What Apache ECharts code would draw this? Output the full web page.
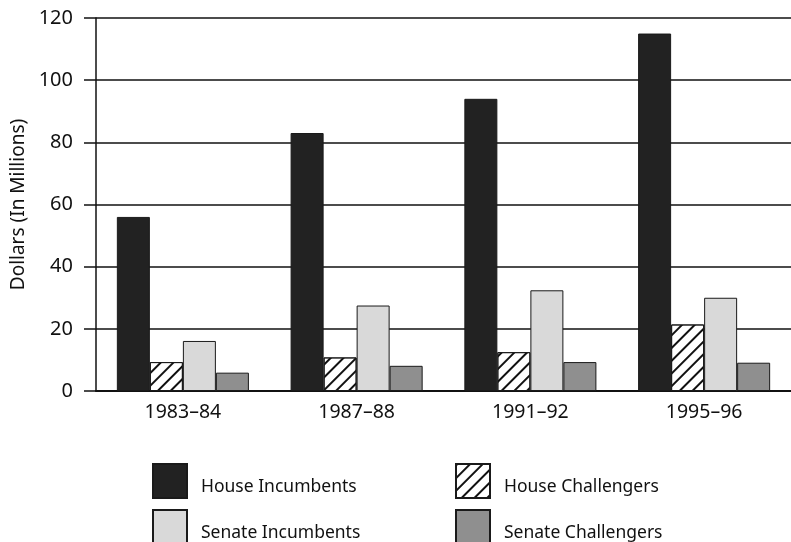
<!DOCTYPE html>
<html>
<head>
<meta charset="utf-8">
<script src="https://cdn.jsdelivr.net/npm/echarts@6/dist/echarts.min.js"></script>
<style>
  html, body { margin: 0; padding: 0; background: #fff; }
  #chart { width: 791px; height: 542px; }
</style>
</head>
<body>
<div id="chart"></div>
<script>
// data
const cycles = ['1983\u201384', '1987\u201388', '1991\u201392', '1995\u201396'];
const houseIncumbents = [56, 83, 94, 115];
const houseChallengers = [9.3, 10.8, 12.5, 21.4];
const senateIncumbents = [16.1, 27.5, 32.4, 30];
const senateChallengers = [5.9, 8.1, 9.3, 9.1];
const yTicks = [0, 20, 40, 60, 80, 100, 120];

const FONT = 'Noto Sans';

const chart = echarts.init(document.getElementById('chart'));

function bar(name, data, style) {
  return {
    name: name,
    type: 'bar',
    data: data,
    barGap: '0%',
    barCategoryGap: '24%',
    itemStyle: Object.assign({ borderColor: '#1a1a1a', borderWidth: 1 }, style)
  };
}

// one vertical legend per column so the columns line up
function legendCol(left, names) {
  return {
    orient: 'vertical',
    left: left, top: 463,
    height: 120,
    padding: 0,
    icon: 'rect',
    itemWidth: 34, itemHeight: 34, itemGap: 10,
    data: names,
    // text sits a little below the icon centre in the original
    formatter: '{t|{name}}',
    textStyle: {
      fontFamily: FONT, fontSize: 17.5, color: '#111',
      rich: { t: { fontFamily: FONT, fontSize: 17.5, color: '#111', padding: [12, 0, 0, 9] } }
    }
  };
}

const option = {
  animation: false,
  backgroundColor: '#fff',
  textStyle: { fontFamily: FONT },
  grid: { left: 96, right: 0, top: 18, bottom: 151, containLabel: false },
  legend: [
    legendCol(152, ['House Incumbents', 'Senate Incumbents']),
    legendCol(455, ['House Challengers', 'Senate Challengers'])
  ],
  xAxis: {
    type: 'category',
    data: cycles,
    axisLine: { lineStyle: { color: '#111', width: 2 } },
    axisTick: { show: false },
    axisLabel: { fontFamily: FONT, fontSize: 19.5, color: '#111', margin: 11 }
  },
  yAxis: {
    type: 'value',
    min: yTicks[0],
    max: yTicks[yTicks.length - 1],
    interval: 20,
    name: 'Dollars (In Millions)',
    nameLocation: 'middle',
    nameGap: 64,
    nameTextStyle: { fontFamily: FONT, fontSize: 19, color: '#111' },
    axisLine: { show: true, lineStyle: { color: '#111', width: 1.5 } },
    axisTick: { show: true, length: 12, lineStyle: { color: '#111', width: 1.5 } },
    axisLabel: { fontFamily: FONT, fontSize: 20, color: '#111', margin: 23 },
    splitLine: { show: true, lineStyle: { color: '#111', width: 1.5 } }
  },
  series: [
    bar('House Incumbents', houseIncumbents, { color: '#222' }),
    bar('House Challengers', houseChallengers, {
      color: '#fff',
      decal: {
        symbol: 'rect',
        color: '#111',
        dashArrayX: [1, 0],
        dashArrayY: [1.8, 7],
        rotation: -Math.PI / 4
      }
    }),
    bar('Senate Incumbents', senateIncumbents, { color: '#d9d9d9' }),
    bar('Senate Challengers', senateChallengers, { color: '#8f8f8f' })
  ]
};

chart.setOption(option);
</script>
</body>
</html>
